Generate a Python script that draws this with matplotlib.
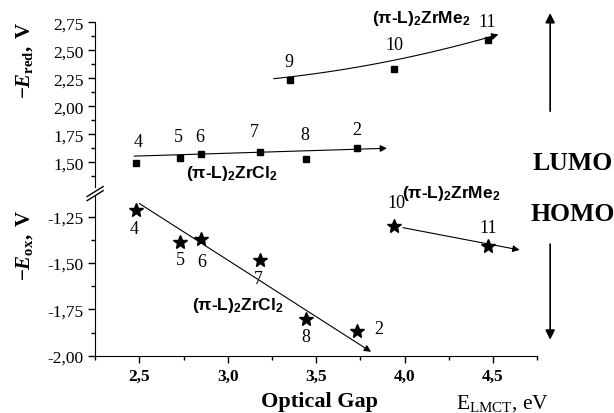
import numpy as np
import matplotlib
matplotlib.use("Agg")
import matplotlib.pyplot as plt
from matplotlib.ticker import FuncFormatter, MultipleLocator

plt.rcParams['font.family'] = 'Liberation Serif'
plt.rcParams['mathtext.fontset'] = 'custom'
plt.rcParams['mathtext.rm'] = 'Liberation Serif'
plt.rcParams['mathtext.it'] = 'Liberation Serif:italic'
plt.rcParams['mathtext.bf'] = 'Liberation Serif:bold'
plt.rcParams['mathtext.bfit'] = 'Liberation Serif:bold:italic'
plt.rcParams['mathtext.sf'] = 'Liberation Sans:bold'

# (pi-L)2ZrCl2 complexes
cl_labels = ['4', '5', '6', '7', '8', '2']
cl_gap = [2.48, 2.73, 2.85, 3.18, 3.44, 3.73]
cl_ered = [1.49, 1.535, 1.57, 1.59, 1.53, 1.63]
cl_eox = [-1.215, -1.385, -1.37, -1.485, -1.80, -1.865]

# (pi-L)2ZrMe2 complexes
me_labels = ['9', '10', '11']
me_gap = [3.35, 3.94, 4.47]
me_ered = [2.23, 2.33, 2.59]
me_ox_labels = ['10', '11']
me_ox_gap = [3.94, 4.47]
me_eox = [-1.30, -1.41]

# trend lines (start, end)
cl_red_trend = [(2.47, 1.555), (3.90, 1.625)]
cl_ox_trend = [(2.50, -1.18), (3.81, -1.978)]
me_ox_trend = [(3.99, -1.31), (4.65, -1.43)]
me_red_curve_x = [3.26, 3.41, 3.94, 4.53]
me_red_curve_y = [2.245, 2.275, 2.41, 2.64]

fig = plt.figure(figsize=(6.14, 4.14), dpi=100)
ax_top = fig.add_axes([0.155, 0.546, 0.72, 0.398])
ax_bot = fig.add_axes([0.155, 0.138, 0.72, 0.386])

comma2 = FuncFormatter(lambda v, p: ('%.2f' % v).replace('.', ','))
comma1 = FuncFormatter(lambda v, p: ('%.1f' % v).replace('.', ','))

for ax in (ax_top, ax_bot):
    ax.set_xlim(2.25, 4.75)
    ax.spines['top'].set_visible(False)
    ax.spines['right'].set_visible(False)
    ax.xaxis.set_major_locator(MultipleLocator(0.5))
    ax.xaxis.set_minor_locator(MultipleLocator(0.25))
    ax.yaxis.set_major_locator(MultipleLocator(0.25))
    ax.yaxis.set_minor_locator(MultipleLocator(0.125))
    ax.yaxis.set_major_formatter(comma2)
    ax.tick_params(which='major', length=5, width=1, labelsize=12.5)
    ax.tick_params(which='minor', length=3, width=1)
    ax.patch.set_visible(False)

ax_top.set_ylim(1.28, 2.75)
ax_top.spines['bottom'].set_visible(False)
ax_top.tick_params(axis='x', which='both', bottom=False, labelbottom=False)

ax_bot.set_ylim(-2.0, -1.14)
ax_bot.xaxis.set_major_formatter(comma1)
for lab in ax_bot.get_xticklabels():
    lab.set_fontweight('bold')

# points
ax_top.plot(cl_gap, cl_ered, 's', color='k', ms=5)
ax_top.plot(me_gap, me_ered, 's', color='k', ms=5)
ax_bot.plot(cl_gap, cl_eox, '*', color='k', ms=10)
ax_bot.plot(me_ox_gap, me_eox, '*', color='k', ms=10)

arrow = dict(arrowstyle='-|>', lw=0.8, color='k', mutation_scale=10, shrinkA=0, shrinkB=0)
ax_top.annotate('', xy=cl_red_trend[1], xytext=cl_red_trend[0], arrowprops=arrow)
ax_bot.annotate('', xy=cl_ox_trend[1], xytext=cl_ox_trend[0], arrowprops=arrow)
ax_bot.annotate('', xy=me_ox_trend[1], xytext=me_ox_trend[0], arrowprops=arrow)

coef = np.polyfit(me_red_curve_x, me_red_curve_y, 2)
cx = np.linspace(me_red_curve_x[0], me_red_curve_x[-1], 60)
cy = np.polyval(coef, cx)
ax_top.plot(cx[:-3], cy[:-3], color='k', lw=0.8)
ax_top.annotate('', xy=(cx[-1], cy[-1]), xytext=(cx[-4], cy[-4]), arrowprops=arrow)

# point labels
top_off = [(2, 22), (-2, 22), (-2, 18), (-5, 21), (-1, 24), (0, 18)]
for lab, x, y, off in zip(cl_labels, cl_gap, cl_ered, top_off):
    ax_top.annotate(lab, (x, y), xytext=off, textcoords='offset pixels',
                    ha='center', va='center', fontsize=13)
me_off = [(-1, 19), (0, 25), (-1, 19)]
for lab, x, y, off in zip(me_labels, me_gap, me_ered, me_off):
    ax_top.annotate(lab, (x, y), xytext=off, textcoords='offset pixels',
                    ha='center', va='center', fontsize=13)
bot_off = [(-2, -18), (0, -18), (0, -23), (-1, -18), (0, -18), (22, 2)]
for lab, x, y, off in zip(cl_labels, cl_gap, cl_eox, bot_off):
    ax_bot.annotate(lab, (x, y), xytext=off, textcoords='offset pixels',
                    ha='center', va='center', fontsize=13)
me_ox_off = [(2, 23), (0, 19)]
for lab, x, y, off in zip(me_ox_labels, me_ox_gap, me_eox, me_ox_off):
    ax_bot.annotate(lab, (x, y), xytext=off, textcoords='offset pixels',
                    ha='center', va='center', fontsize=13)

# series names
zrcl = r'(π-L)$_\mathsf{2}$ZrCl$_\mathsf{2}$'
zrme = r'(π-L)$_\mathsf{2}$ZrMe$_\mathsf{2}$'
sans = dict(family='Liberation Sans', fontweight='bold', fontsize=12.5, ha='center', va='center')
fig.text(0.686, 0.956, zrme, **sans)
fig.text(0.378, 0.582, zrcl, **sans)
fig.text(0.388, 0.262, zrcl, **sans)
fig.text(0.735, 0.533, zrme, **sans)

# axis labels
fig.text(0.040, 0.855, r'$\mathbf{-}\mathbfit{E}_{\mathbf{red}}\mathbf{,\ V}$',
         rotation=90, ha='center', va='center', fontsize=15)
fig.text(0.040, 0.408, r'$\mathbf{-}\mathbfit{E}_{\mathbf{ox}}\mathbf{,\ V}$',
         rotation=90, ha='center', va='center', fontsize=15)
fig.text(0.520, 0.030, 'Optical Gap', fontweight='bold', fontsize=16,
         ha='center', va='center')
fig.text(0.818, 0.026, r'E$_{\mathrm{LMCT}}$, eV', fontsize=15.5, ha='center', va='center')

# LUMO / HOMO
fig.text(0.933, 0.606, 'LUMO', fontweight='bold', fontsize=18.5, ha='center', va='center')
fig.text(0.933, 0.481, 'HOMO', fontweight='bold', fontsize=18.5, ha='center', va='center')
big = dict(arrowstyle='-|>', lw=1.2, color='k', mutation_scale=14, shrinkA=0, shrinkB=0)
fig.add_artist(matplotlib.patches.FancyArrowPatch((0.896, 0.729), (0.896, 0.966),
                                                  transform=fig.transFigure, **big))
fig.add_artist(matplotlib.patches.FancyArrowPatch((0.896, 0.408), (0.896, 0.177),
                                                  transform=fig.transFigure, **big))

# axis break marks
for yy in (0.535, 0.525):
    fig.add_artist(matplotlib.lines.Line2D([0.142, 0.168], [yy - 0.012, yy + 0.012],
                                           transform=fig.transFigure, color='k', lw=1))

fig.savefig('out.png', dpi=100)
